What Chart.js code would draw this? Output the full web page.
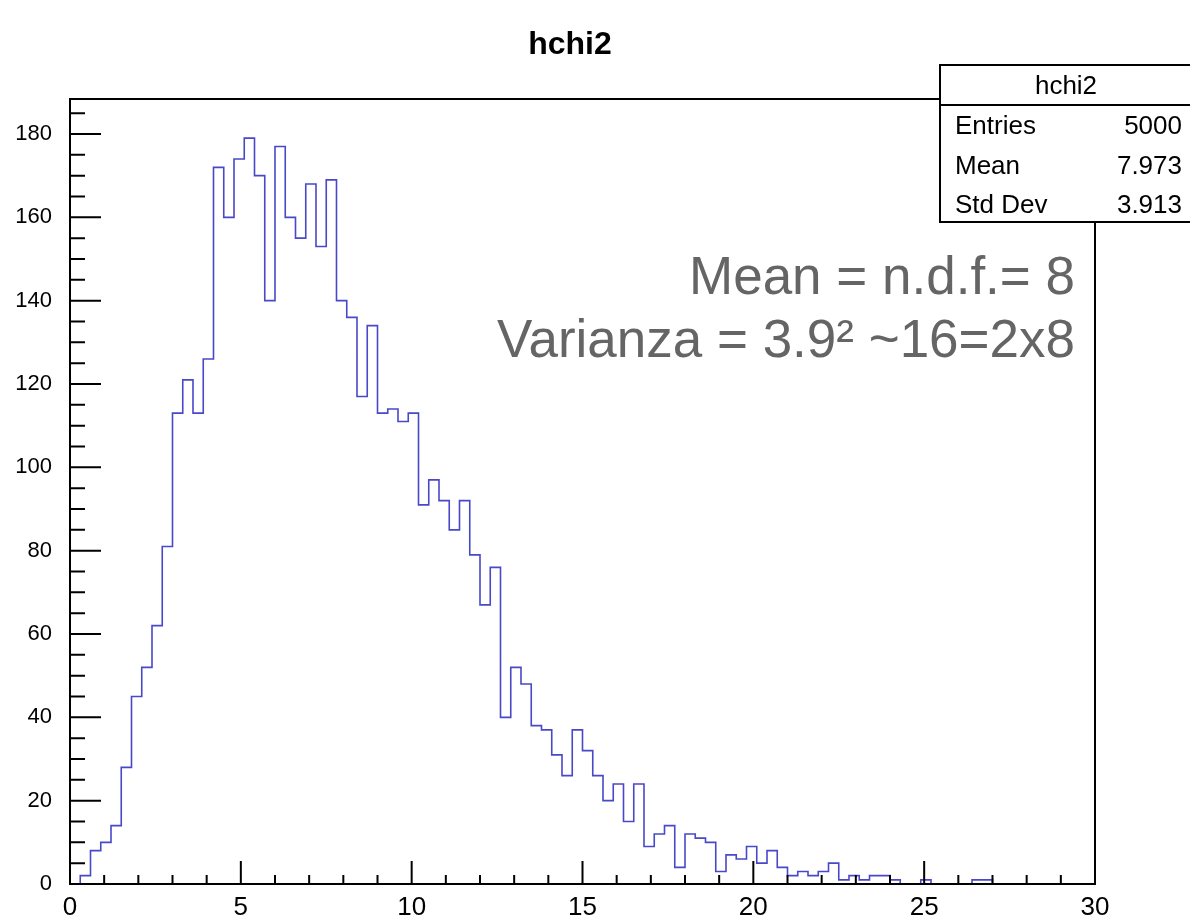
<!DOCTYPE html>
<html>
<head>
<meta charset="utf-8">
<title>hchi2</title>
<script src="https://cdn.jsdelivr.net/npm/chart.js@4/dist/chart.umd.min.js"></script>
<style>
  html, body { margin: 0; padding: 0; background: #fff; }
</style>
</head>
<body>
<canvas id="hist" width="1190" height="919"></canvas>
<script>
Chart.defaults.font.family = '"Liberation Sans", Arial, Helvetica, sans-serif';
Chart.defaults.color = "#000";

// hchi2: 100 bins of width 0.3 on [0, 30]
const xMin = 0;
const xMax = 30;
const binWidth = 0.3;
const counts = [
  0, 2, 8, 10, 14, 28, 45, 52, 62, 81,
  113, 121, 113, 126, 172, 160, 174, 179, 170, 140,
  177, 160, 155, 168, 153, 169, 140, 136, 117, 134,
  113, 114, 111, 113, 91, 97, 92, 85, 92, 79,
  67, 76, 40, 52, 48, 38, 37, 31, 26, 37,
  32, 26, 20, 24, 15, 24, 9, 12, 14, 4,
  12, 11, 10, 3, 7, 6, 9, 5, 8, 4,
  2, 3, 2, 3, 5, 1, 2, 1, 2, 2,
  1, 0, 0, 1, 0, 0, 0, 0, 1, 1,
  0, 0, 0, 0, 0, 0, 0, 0, 0, 0
];
const yMax = 188.4;

// axis divisions
const xMajor = 5, xMinor = 1;
const yMajor = 20, yMinor = 5;

// stats box and notes
const histName = "hchi2";
const statsLabels = ["Entries", "Mean", "Std Dev"];
const statsValues = ["5000", "7.973", "3.913"];
const noteLines = ["Mean = n.d.f.= 8", "Varianza = 3.9\u00b2 ~16=2x8"];

// step outline: one point at each bin's low edge, plus the upper edge
const points = counts.map((c, i) => ({ x: xMin + i * binWidth, y: c }));
points.push({ x: xMax, y: counts[counts.length - 1] });

const FONT = '"Liberation Sans", Arial, Helvetica, sans-serif';

// frame, inward ticks, title, stats box, notes
const rootPad = {
  id: "rootPad",
  afterDraw(chart) {
    const { ctx, chartArea: a, scales: { x, y } } = chart;
    ctx.save();
    ctx.strokeStyle = "#000";
    ctx.lineWidth = 2;
    ctx.strokeRect(a.left, a.top, a.right - a.left, a.bottom - a.top);

    ctx.beginPath();
    for (let v = xMin; v <= xMax; v += xMinor) {
      const px = x.getPixelForValue(v);
      const len = v % xMajor === 0 ? 23 : 9;
      ctx.moveTo(px, a.bottom);
      ctx.lineTo(px, a.bottom - len);
    }
    for (let v = 0; v <= yMax; v += yMinor) {
      const py = y.getPixelForValue(v);
      const len = v % yMajor === 0 ? 31 : 15;
      ctx.moveTo(a.left, py);
      ctx.lineTo(a.left + len, py);
    }
    ctx.stroke();

    // title
    ctx.fillStyle = "#000";
    ctx.textAlign = "center";
    ctx.textBaseline = "alphabetic";
    ctx.font = "bold 32px " + FONT;
    ctx.fillText(histName, 570, 54);

    // stats box
    const bx = 940, by = 65, bw = 270, bh = 157, hdr = 40;
    ctx.fillStyle = "#fff";
    ctx.fillRect(bx, by, bw, bh);
    ctx.strokeRect(bx, by, bw, bh);
    ctx.beginPath();
    ctx.moveTo(bx, by + hdr);
    ctx.lineTo(bx + bw, by + hdr);
    ctx.stroke();
    ctx.fillStyle = "#000";
    ctx.font = "26px " + FONT;
    ctx.textAlign = "center";
    ctx.fillText(histName, 1066, 94);
    statsLabels.forEach((lab, i) => {
      const base = 134 + i * 39.5;
      ctx.textAlign = "left";
      ctx.fillText(lab, 955, base);
      ctx.textAlign = "right";
      ctx.fillText(statsValues[i], 1182, base);
    });

    // notes
    ctx.fillStyle = "#656565";
    ctx.font = "53px " + FONT;
    ctx.textAlign = "right";
    ctx.fillText(noteLines[0], 1075, 294);
    ctx.fillText(noteLines[1], 1075, 357);
    ctx.restore();
  }
};

new Chart(document.getElementById("hist"), {
  type: "line",
  data: {
    datasets: [{
      label: histName,
      data: points,
      stepped: true,
      borderColor: "#4848c8",
      borderWidth: 1.6,
      pointRadius: 0,
      fill: false,
      tension: 0
    }]
  },
  options: {
    responsive: false,
    animation: false,
    devicePixelRatio: 1,
    layout: { padding: { top: 99, right: 95, left: 0, bottom: 0 } },
    plugins: { legend: { display: false }, title: { display: false }, tooltip: { enabled: false } },
    scales: {
      x: {
        type: "linear",
        min: xMin,
        max: xMax,
        grid: { display: false },
        border: { display: false },
        ticks: { stepSize: xMajor, autoSkip: false, maxRotation: 0, padding: 0, font: { size: 26 } },
        afterFit: s => { s.height = 35; }
      },
      y: {
        min: 0,
        max: yMax,
        grid: { display: false },
        border: { display: false },
        ticks: { autoSkip: false, padding: 10, font: { size: 22 } },
        afterBuildTicks: s => {
          const t = [];
          for (let v = 0; v <= yMax; v += yMajor) t.push({ value: v });
          s.ticks = t;
        },
        afterFit: s => { s.width = 70; }
      }
    }
  },
  plugins: [rootPad]
});
</script>
</body>
</html>
